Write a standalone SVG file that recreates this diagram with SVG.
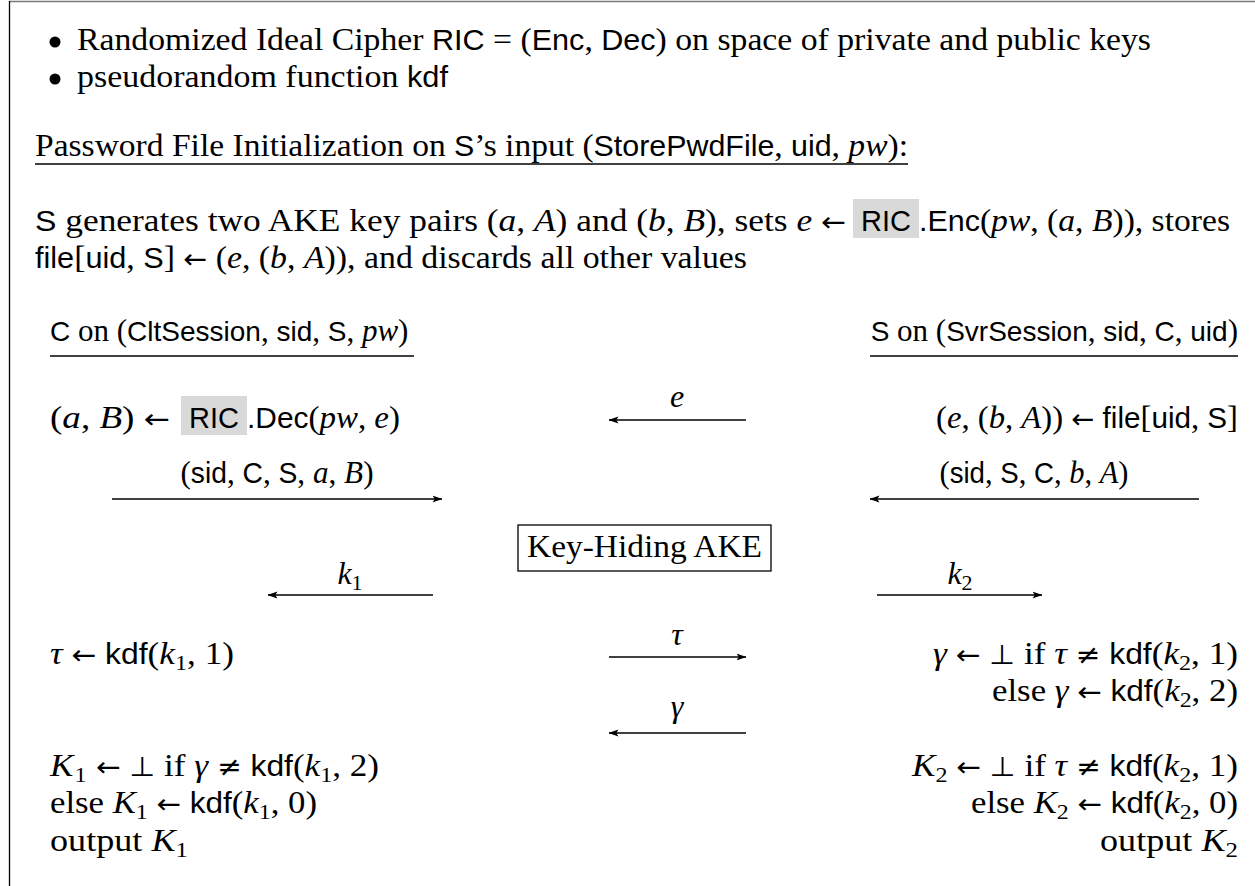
<svg xmlns="http://www.w3.org/2000/svg" width="1255" height="886" viewBox="0 0 1255 886">
<defs>
<style>
text { font-family: "Liberation Serif", "DejaVu Serif", serif; font-size: 32px; fill: #000; }
.i { font-style: italic; }
.s { font-family: "Liberation Sans", "DejaVu Sans", sans-serif; font-size: 29px; font-style: normal; }
.y { font-family: "DejaVu Sans", sans-serif; font-size: 27px; font-style: normal; }
.b { font-size: 22px; }
.hd { font-size: 31px; }
.hd .s { font-size: 28px; }
.ul { stroke: #000; stroke-width: 1.3; }
.arr { stroke: #000; stroke-width: 1.3; fill: none; marker-end: url(#ah); }
.hl { fill: #d9d9d9; }
</style>
<marker id="ah" viewBox="0 0 10 8" refX="9.5" refY="4" markerWidth="10" markerHeight="8" markerUnits="userSpaceOnUse" orient="auto">
<path d="M0,0.6 L10,4 L0,7.4 L2.2,4 Z" fill="#000"/>
</marker>
</defs>
<rect width="1255" height="886" fill="#fff"/>
<g id="frame">
<line x1="9" y1="1.5" x2="1255" y2="1.5" stroke="#777" stroke-width="1.6"/>
<line x1="9.5" y1="1" x2="9.5" y2="886" stroke="#000" stroke-width="1.3"/>
</g>
<g id="assumptions">
<circle cx="55" cy="42" r="5.5" fill="#000"/>
<text x="77" y="50" textLength="1074" lengthAdjust="spacingAndGlyphs">Randomized Ideal Cipher <tspan class="s">RIC</tspan> = (<tspan class="s">Enc</tspan>, <tspan class="s">Dec</tspan>) on space of private and public keys</text>
<circle cx="55" cy="79" r="5.5" fill="#000"/>
<text x="77" y="87" textLength="371" lengthAdjust="spacingAndGlyphs">pseudorandom function <tspan class="s">kdf</tspan></text>
</g>
<g id="init-title">
<text x="35" y="156" textLength="873" lengthAdjust="spacingAndGlyphs">Password File Initialization on <tspan class="s">S</tspan>’s input (<tspan class="s">StorePwdFile</tspan>, <tspan class="s">uid</tspan>, <tspan class="i">pw</tspan>):</text>
<line class="ul" x1="35" y1="164" x2="908" y2="164"/>
</g>
<g id="init-body">
<text x="35" y="231" textLength="811" lengthAdjust="spacingAndGlyphs"><tspan class="s">S</tspan> generates two AKE key pairs (<tspan class="i">a</tspan>, <tspan class="i">A</tspan>) and (<tspan class="i">b</tspan>, <tspan class="i">B</tspan>), sets <tspan class="i">e</tspan> <tspan class="y">←</tspan></text>
<rect class="hl" x="853" y="199" width="66" height="39"/>
<text class="s" x="886" y="231" text-anchor="middle">RIC</text>
<text x="919" y="231" textLength="311" lengthAdjust="spacingAndGlyphs"><tspan class="s">.Enc</tspan>(<tspan class="i">pw</tspan>, (<tspan class="i">a</tspan>, <tspan class="i">B</tspan>)), stores</text>
<text x="35" y="268" textLength="712" lengthAdjust="spacingAndGlyphs"><tspan class="s">file</tspan>[<tspan class="s">uid</tspan>, <tspan class="s">S</tspan>] <tspan class="y">←</tspan> (<tspan class="i">e</tspan>, (<tspan class="i">b</tspan>, <tspan class="i">A</tspan>)), and discards all other values</text>
</g>
<g id="client">
<text class="hd" x="50" y="341"><tspan class="s">C</tspan> on (<tspan class="s">CltSession</tspan>, <tspan class="s">sid</tspan>, <tspan class="s">S</tspan>, <tspan class="i">pw</tspan>)</text>
<line class="ul" x1="50" y1="356" x2="414" y2="356"/>
<text x="50" y="428" textLength="120" lengthAdjust="spacingAndGlyphs">(<tspan class="i">a</tspan>, <tspan class="i">B</tspan>) <tspan class="y">←</tspan></text>
<rect class="hl" x="181" y="396" width="66" height="39"/>
<text class="s" x="214" y="428" text-anchor="middle">RIC</text>
<text x="247" y="428" textLength="153" lengthAdjust="spacingAndGlyphs"><tspan class="s">.Dec</tspan>(<tspan class="i">pw</tspan>, <tspan class="i">e</tspan>)</text>
<text x="50" y="664" textLength="184" lengthAdjust="spacingAndGlyphs"><tspan class="i">τ</tspan> <tspan class="y">←</tspan> <tspan class="s">kdf</tspan>(<tspan class="i">k</tspan><tspan class="b" dy="6">1</tspan><tspan dy="-6">, 1)</tspan></text>
<text x="50" y="776" textLength="329" lengthAdjust="spacingAndGlyphs"><tspan class="i">K</tspan><tspan class="b" dx="1" dy="6">1</tspan><tspan class="y" dy="-6"> ←</tspan> <tspan class="y">⊥</tspan> if <tspan class="i">γ</tspan> <tspan class="y">≠</tspan> <tspan class="s">kdf</tspan>(<tspan class="i">k</tspan><tspan class="b" dy="6">1</tspan><tspan dy="-6">, 2)</tspan></text>
<text x="50" y="813" textLength="267" lengthAdjust="spacingAndGlyphs">else <tspan class="i">K</tspan><tspan class="b" dy="6">1</tspan><tspan dy="-6"> </tspan><tspan class="y">←</tspan> <tspan class="s">kdf</tspan>(<tspan class="i">k</tspan><tspan class="b" dy="6">1</tspan><tspan dy="-6">, 0)</tspan></text>
<text x="50" y="851" textLength="138" lengthAdjust="spacingAndGlyphs">output <tspan class="i">K</tspan><tspan class="b" dy="6">1</tspan></text>
</g>
<g id="server">
<text class="hd" x="1238" y="341" text-anchor="end"><tspan class="s">S</tspan> on (<tspan class="s">SvrSession</tspan>, <tspan class="s">sid</tspan>, <tspan class="s">C</tspan>, <tspan class="s">uid</tspan>)</text>
<line class="ul" x1="870" y1="356" x2="1238" y2="356"/>
<text x="1238" y="428" text-anchor="end" textLength="302" lengthAdjust="spacingAndGlyphs">(<tspan class="i">e</tspan>, (<tspan class="i">b</tspan>, <tspan class="i">A</tspan>)) <tspan class="y">←</tspan> <tspan class="s">file</tspan>[<tspan class="s">uid</tspan>, <tspan class="s">S</tspan>]</text>
<text x="1238" y="664" text-anchor="end" textLength="305" lengthAdjust="spacingAndGlyphs"><tspan class="i">γ</tspan> <tspan class="y">←</tspan> <tspan class="y">⊥</tspan> if <tspan class="i">τ</tspan> <tspan class="y">≠</tspan> <tspan class="s">kdf</tspan>(<tspan class="i">k</tspan><tspan class="b" dy="6">2</tspan><tspan dy="-6">, 1)</tspan></text>
<text x="1238" y="701" text-anchor="end" textLength="246" lengthAdjust="spacingAndGlyphs">else <tspan class="i">γ</tspan> <tspan class="y">←</tspan> <tspan class="s">kdf</tspan>(<tspan class="i">k</tspan><tspan class="b" dy="6">2</tspan><tspan dy="-6">, 2)</tspan></text>
<text x="1238" y="776" text-anchor="end" textLength="326" lengthAdjust="spacingAndGlyphs"><tspan class="i">K</tspan><tspan class="b" dy="6">2</tspan><tspan dy="-6"> </tspan><tspan class="y">←</tspan> <tspan class="y">⊥</tspan> if <tspan class="i">τ</tspan> <tspan class="y">≠</tspan> <tspan class="s">kdf</tspan>(<tspan class="i">k</tspan><tspan class="b" dy="6">2</tspan><tspan dy="-6">, 1)</tspan></text>
<text x="1238" y="813" text-anchor="end" textLength="267" lengthAdjust="spacingAndGlyphs">else <tspan class="i">K</tspan><tspan class="b" dy="6">2</tspan><tspan dy="-6"> </tspan><tspan class="y">←</tspan> <tspan class="s">kdf</tspan>(<tspan class="i">k</tspan><tspan class="b" dy="6">2</tspan><tspan dy="-6">, 0)</tspan></text>
<text x="1238" y="851" text-anchor="end" textLength="138" lengthAdjust="spacingAndGlyphs">output <tspan class="i">K</tspan><tspan class="b" dy="6">2</tspan></text>
</g>
<g id="ake">
<rect x="518" y="525" width="253" height="46" fill="none" stroke="#000" stroke-width="1.3"/>
<text x="644.5" y="557" text-anchor="middle" textLength="235" lengthAdjust="spacingAndGlyphs">Key-Hiding AKE</text>
</g>
<g id="connectors">
<line class="arr" x1="746" y1="420" x2="609" y2="420"/>
<text class="i" x="677" y="407" text-anchor="middle">e</text>
<line class="arr" x1="112" y1="499" x2="442" y2="499"/>
<text x="277" y="483" text-anchor="middle" textLength="193" lengthAdjust="spacingAndGlyphs">(<tspan class="s">sid</tspan>, <tspan class="s">C</tspan>, <tspan class="s">S</tspan>, <tspan class="i">a</tspan>, <tspan class="i">B</tspan>)</text>
<line class="arr" x1="1199" y1="499" x2="870" y2="499"/>
<text x="1034" y="483" text-anchor="middle" textLength="189" lengthAdjust="spacingAndGlyphs">(<tspan class="s">sid</tspan>, <tspan class="s">S</tspan>, <tspan class="s">C</tspan>, <tspan class="i">b</tspan>, <tspan class="i">A</tspan>)</text>
<line class="arr" x1="433" y1="595" x2="268" y2="595"/>
<text x="350" y="584" text-anchor="middle"><tspan class="i">k</tspan><tspan class="b" dy="6">1</tspan></text>
<line class="arr" x1="877" y1="595" x2="1042" y2="595"/>
<text x="960" y="584" text-anchor="middle"><tspan class="i">k</tspan><tspan class="b" dy="6">2</tspan></text>
<line class="arr" x1="609" y1="657" x2="746" y2="657"/>
<text class="i" x="677" y="645" text-anchor="middle">τ</text>
<line class="arr" x1="746" y1="733" x2="609" y2="733"/>
<text class="i" x="677" y="717" text-anchor="middle">γ</text>
</g>
</svg>
